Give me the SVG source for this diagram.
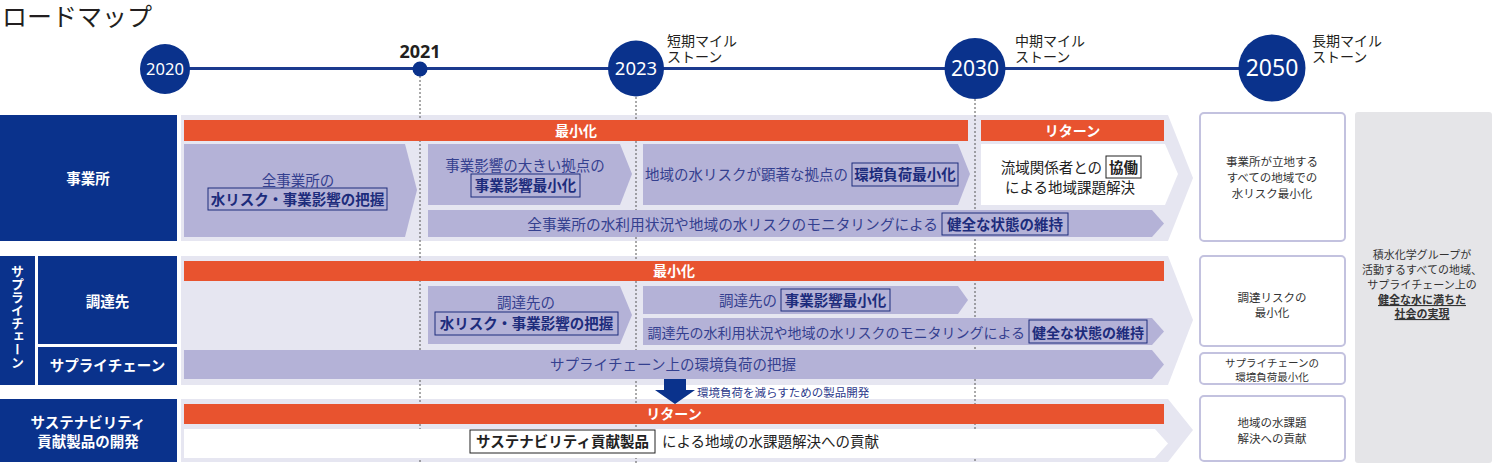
<svg xmlns="http://www.w3.org/2000/svg" width="1492" height="463" viewBox="0 0 1492 463">
<style>
text{font-family:"Noto Sans CJK JP","Noto Sans",sans-serif}
.num{font-family:"Noto Sans",sans-serif;fill:#fff;text-anchor:middle}
.nav{fill:#0a328c}
.lbl{fill:#fff;font-weight:700;font-size:14.5px;text-anchor:middle}
.band{fill:#e6e6f1}
.org{fill:#e8532f}
.otx{fill:#fff;font-weight:700;font-size:14px;text-anchor:middle}
.lav{fill:#b4b2d7}
.ct{fill:#34408f;font-size:14.5px}
.cb{fill:#1d2c7c;font-weight:700;font-size:14.5px;text-anchor:middle}
.bx{fill:none;stroke:#1d2c7c;stroke-width:1}
.bk{fill:#222;font-size:14.5px}
.bkb{fill:#222;font-weight:700;font-size:14.5px;text-anchor:middle}
.bxk{fill:#fff;stroke:#222;stroke-width:1}
.rbox{fill:#fff;stroke:#c3c2df;stroke-width:2}
.rt{fill:#333;font-size:11.5px;text-anchor:middle}
.ms{fill:#231f20;font-size:14px}
.dl{stroke:#555;stroke-width:1;stroke-dasharray:2 2;fill:none}
</style>

<text x="2" y="26" font-size="25" fill="#231f20">ロードマップ</text>

<g id="timeline">
<line x1="165" y1="68.5" x2="1272" y2="68.5" stroke="#1b3a8e" stroke-width="3"/>
</g>

<g id="lanes">
<polygon class="band" points="181,115 1168,115 1193,178 1168,241 181,241"/>
<polygon class="band" points="181,256 1168,256 1193,320 1168,385 181,385"/>
<polygon class="band" points="181,399 1168,399 1193,430 1168,462 181,462"/>
</g>

<g id="connectors">
<line class="dl" x1="420" y1="76" x2="420" y2="463"/>
<line class="dl" x1="636" y1="97" x2="636" y2="463"/>
<line class="dl" x1="975" y1="99" x2="975" y2="463"/>
<g id="arrow-product">
<polygon class="nav" points="664,377 686,377 686,390 695,390 675,404 655,390 664,390"/>
<text x="697" y="396.5" font-size="11.5" fill="#2d3a8c">環境負荷を減らすための製品開発</text>
</g>
</g>

<g id="y2020"><circle class="nav" cx="165" cy="69" r="25"/><text class="num" x="165" y="75" font-size="16.5">2020</text></g>
<g id="y2021"><circle class="nav" cx="420" cy="69" r="7.5"/><text x="420" y="58" font-size="18" font-weight="700" fill="#231f20" text-anchor="middle" style="font-family:'Noto Sans',sans-serif">2021</text></g>
<g id="y2023"><circle class="nav" cx="636" cy="68.5" r="28"/><text class="num" x="636" y="75" font-size="18.5">2023</text>
<text class="ms" x="667" y="46">短期マイル<tspan x="667" dy="15.5">ストーン</tspan></text></g>
<g id="y2030"><circle class="nav" cx="975" cy="68.5" r="30.5"/><text class="num" x="975" y="76" font-size="21">2030</text>
<text class="ms" x="1015" y="46">中期マイル<tspan x="1015" dy="15.5">ストーン</tspan></text></g>
<g id="y2050"><circle class="nav" cx="1272" cy="68" r="33.5"/><text class="num" x="1272" y="76" font-size="23">2050</text>
<text class="ms" x="1312" y="46">長期マイル<tspan x="1312" dy="15.5">ストーン</tspan></text></g>

<g id="label-jigyosho"><rect class="nav" x="0" y="115" width="177" height="126"/><text class="lbl" x="88" y="183.5" font-size="15">事業所</text></g>
<g id="label-sc-vertical"><rect class="nav" x="0" y="256" width="35" height="129"/><text class="lbl" x="17.5" y="265" style="writing-mode:vertical-rl;text-anchor:start;font-size:13px">サプライチェーン</text></g>
<g id="label-chotatsu"><rect class="nav" x="38" y="256" width="139" height="88"/><text class="lbl" x="107.5" y="307">調達先</text></g>
<g id="label-sc"><rect class="nav" x="38" y="347" width="139" height="38"/><text class="lbl" x="107.5" y="371">サプライチェーン</text></g>
<g id="label-sustain"><rect class="nav" x="0" y="399" width="177" height="63"/><text class="lbl" x="88" y="428">サステナビリティ</text><text class="lbl" x="88" y="447">貢献製品の開発</text></g>

<g id="r1-min"><rect class="org" x="184" y="120" width="784" height="21"/><text class="otx" x="576" y="136">最小化</text></g>
<g id="r1-return"><rect class="org" x="981" y="120" width="183" height="21"/><text class="otx" x="1072.5" y="136">リターン</text></g>
<g id="r1-a"><polygon class="lav" points="184,144 405,144 417,190 405,237 184,237"/>
<text class="ct" x="298" y="185.5" text-anchor="middle">全事業所の</text>
<rect class="bx" x="208" y="188" width="179" height="22"/><text class="cb" x="297.5" y="204.5">水リスク・事業影響の把握</text></g>
<g id="r1-b"><polygon class="lav" points="428,144 620,144 632,174 620,205 428,205"/>
<text class="ct" x="525" y="170.5" text-anchor="middle">事業影響の大きい拠点の</text>
<rect class="bx" x="471" y="174" width="109" height="23"/><text class="cb" x="525.5" y="191">事業影響最小化</text></g>
<g id="r1-c"><polygon class="lav" points="643,144 958,144 970,174 958,205 643,205"/>
<text class="ct" x="848" y="180" text-anchor="end">地域の水リスクが顕著な拠点の</text>
<rect class="bx" x="852" y="163" width="106" height="23"/><text class="cb" x="905" y="180">環境負荷最小化</text></g>
<g id="r1-d"><polygon fill="#fff" points="981,144 1165,144 1178,174 1165,205 981,205"/>
<text class="bk" x="1102" y="172.5" text-anchor="end">流域関係者との</text>
<rect class="bxk" x="1106" y="156" width="35" height="22"/><text class="bkb" x="1123.5" y="172.5">協働</text>
<text class="bk" x="1070" y="192.5" text-anchor="middle">による地域課題解決</text></g>
<g id="r1-e"><polygon class="lav" points="428,210 1152,210 1164,223.5 1152,237 428,237"/>
<text class="ct" x="938" y="229.5" text-anchor="end" style="font-size:14.7px">全事業所の水利用状況や地域の水リスクのモニタリングによる</text>
<rect class="bx" x="942" y="213" width="126" height="22"/><text class="cb" x="1005" y="229.5">健全な状態の維持</text></g>

<g id="r2-min"><rect class="org" x="184" y="261" width="980" height="20"/><text class="otx" x="674" y="276">最小化</text></g>
<g id="r2-a"><polygon class="lav" points="428,286 620,286 632,315 620,344 428,344"/>
<text class="ct" x="526" y="307.5" text-anchor="middle">調達先の</text>
<rect class="bx" x="435" y="312" width="183" height="23"/><text class="cb" x="526.5" y="329">水リスク・事業影響の把握</text></g>
<g id="r2-b"><polygon class="lav" points="643,286 958,286 968,300 958,314 643,314"/>
<text class="ct" x="777" y="305.5" text-anchor="end">調達先の</text>
<rect class="bx" x="781" y="289" width="109" height="22"/><text class="cb" x="835.5" y="305.5">事業影響最小化</text></g>
<g id="r2-c"><polygon class="lav" points="643,318 1152,318 1164,331.5 1152,345 643,345"/>
<text class="ct" x="1025" y="337.5" text-anchor="end" style="font-size:14px">調達先の水利用状況や地域の水リスクのモニタリングによる</text>
<rect class="bx" x="1029" y="320" width="118" height="23"/><text class="cb" x="1088" y="337.5" style="font-size:14px">健全な状態の維持</text></g>
<g id="r2-d"><polygon class="lav" points="184,350 1152,350 1164,364.5 1152,379 184,379"/>
<text class="ct" x="673" y="370" text-anchor="middle">サプライチェーン上の環境負荷の把握</text></g>

<g id="r3-return"><rect class="org" x="184" y="404" width="980" height="20"/><text class="otx" x="674" y="419">リターン</text></g>
<g id="r3-a"><polygon fill="#fff" points="184,429 1155,429 1168,443.5 1155,458 184,458"/>
<rect class="bxk" x="470" y="430" width="185" height="23"/><text class="bkb" x="562.5" y="446.5">サステナビリティ貢献製品</text>
<text class="bk" x="662" y="446.5">による地域の水課題解決への貢献</text></g>

<g id="goal-1"><rect class="rbox" x="1200" y="113" width="145" height="128" rx="4"/>
<text class="rt" x="1272" y="166">事業所が立地する</text><text class="rt" x="1272" y="182">すべての地域での</text><text class="rt" x="1272" y="198">水リスク最小化</text></g>
<g id="goal-2"><rect class="rbox" x="1200" y="256" width="145" height="90" rx="4"/>
<text class="rt" x="1272" y="301.5">調達リスクの</text><text class="rt" x="1272" y="317">最小化</text></g>
<g id="goal-3"><rect class="rbox" x="1200" y="353" width="145" height="31" rx="4"/>
<text class="rt" x="1272" y="367" style="font-size:10.5px">サプライチェーンの</text><text class="rt" x="1272" y="381" style="font-size:10.5px">環境負荷最小化</text></g>
<g id="goal-4"><rect class="rbox" x="1200" y="396" width="145" height="65" rx="4"/>
<text class="rt" x="1272" y="427">地域の水課題</text><text class="rt" x="1272" y="442.5">解決への貢献</text></g>
<g id="vision"><rect x="1355" y="112" width="137" height="351" rx="3" fill="#e5e5e8"/>
<text class="rt" x="1422" y="259" style="font-size:11px">積水化学グループが</text>
<text class="rt" x="1422" y="274" style="font-size:11px">活動するすべての地域、</text>
<text class="rt" x="1422" y="289" style="font-size:11px">サプライチェーン上の</text>
<text class="rt" x="1422" y="304" style="font-size:11px;font-weight:700;text-decoration:underline">健全な水に満ちた</text>
<text class="rt" x="1422" y="318" style="font-size:11px;font-weight:700;text-decoration:underline">社会の実現</text></g>
</svg>
